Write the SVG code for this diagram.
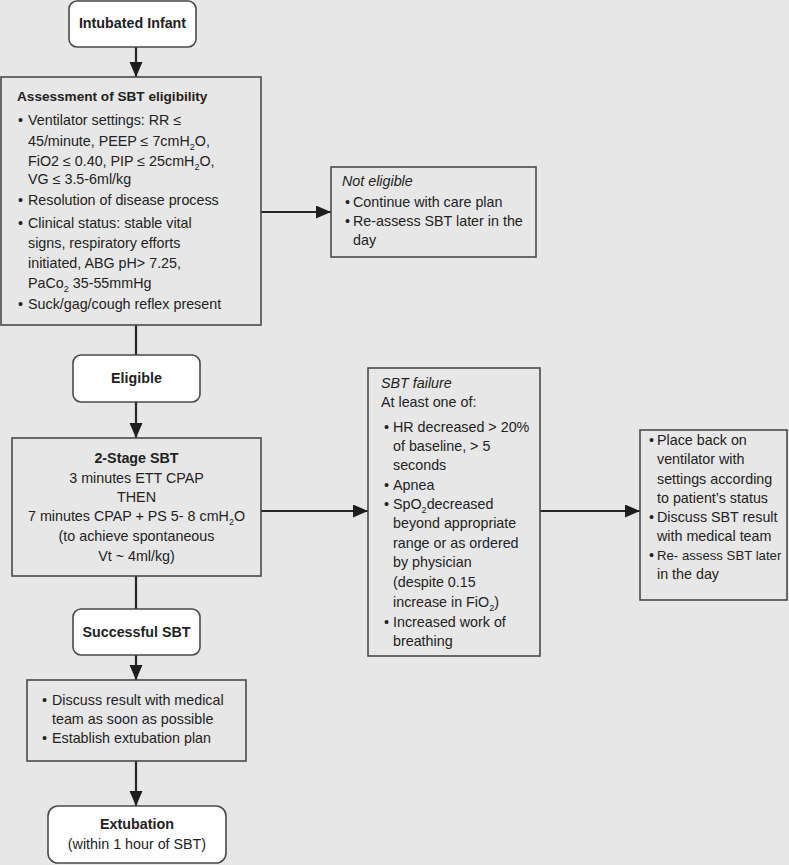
<svg xmlns="http://www.w3.org/2000/svg" width="789" height="865" viewBox="0 0 789 865">
<defs>
<style>
text{font-family:"Liberation Sans",Arial,sans-serif;font-size:14.3px;fill:#222}
.b{font-weight:bold}
.i{font-style:italic}
.m{text-anchor:middle}
.box{fill:#e7e7e7;stroke:#4a4a4a;stroke-width:1.6}
.rbox{fill:#ffffff;stroke:#4a4a4a;stroke-width:1.6}
.con{stroke:#262626;stroke-width:2.2;fill:none}
.s{font-size:9px}
</style>
<marker id="ah" markerUnits="userSpaceOnUse" markerWidth="16" markerHeight="14" refX="15" refY="6.5" orient="auto">
<path d="M0,0 L15,6.5 L0,13 Z" fill="#1e1e1e"/>
</marker>
</defs>
<rect width="789" height="865" fill="#e7e7e7"/>

<g id="connectors">
<line class="con" x1="136" y1="47" x2="136" y2="77" marker-end="url(#ah)"/>
<line class="con" x1="261" y1="212" x2="331" y2="212" marker-end="url(#ah)"/>
<line class="con" x1="136" y1="325" x2="136" y2="356"/>
<line class="con" x1="136" y1="402" x2="136" y2="438" marker-end="url(#ah)"/>
<line class="con" x1="261" y1="511" x2="368" y2="511" marker-end="url(#ah)"/>
<line class="con" x1="540" y1="511" x2="640" y2="511" marker-end="url(#ah)"/>
<line class="con" x1="136" y1="576" x2="136" y2="609"/>
<line class="con" x1="136" y1="655" x2="136" y2="680" marker-end="url(#ah)"/>
<line class="con" x1="136" y1="761" x2="136" y2="806" marker-end="url(#ah)"/>
</g>

<g id="intubated">
<rect class="rbox" x="69" y="1" width="127" height="46" rx="8"/>
<text class="b m" x="132.5" y="28">Intubated Infant</text>
</g>

<g id="assessment">
<rect class="box" x="1" y="77" width="260" height="248"/>
<text class="b" x="17" y="101" style="font-size:13.6px">Assessment of SBT eligibility</text>
<text x="18" y="125">•</text><text x="28" y="125">Ventilator settings: RR ≤</text>
<text x="28" y="146">45/minute, PEEP ≤ 7cmH<tspan class="s" dy="4">2</tspan><tspan dy="-4">O,</tspan></text>
<text x="28" y="166">FiO2 ≤ 0.40, PIP ≤ 25cmH<tspan class="s" dy="4">2</tspan><tspan dy="-4">O,</tspan></text>
<text x="28" y="184">VG ≤ 3.5-6ml/kg</text>
<text x="18" y="205">•</text><text x="28" y="205">Resolution of disease process</text>
<text x="18" y="228">•</text><text x="28" y="228">Clinical status: stable vital</text>
<text x="28" y="248">signs, respiratory efforts</text>
<text x="28" y="268">initiated, ABG pH&gt; 7.25,</text>
<text x="28" y="288">PaCo<tspan class="s" dy="4">2</tspan><tspan dy="-4"> 35-55mmHg</tspan></text>
<text x="18" y="309">•</text><text x="28" y="309">Suck/gag/cough reflex present</text>
</g>

<g id="not-eligible">
<rect class="box" x="331" y="167" width="205" height="90"/>
<text class="i" x="342" y="186">Not eligible</text>
<text x="345" y="207">•</text><text x="353" y="207">Continue with care plan</text>
<text x="345" y="226">•</text><text x="353" y="226">Re-assess SBT later in the</text>
<text x="353" y="245">day</text>
</g>

<g id="eligible">
<rect class="rbox" x="73" y="355" width="127" height="47" rx="8"/>
<text class="b m" x="136.5" y="383">Eligible</text>
</g>

<g id="two-stage">
<rect class="box" x="12" y="438" width="249" height="138"/>
<text class="b m" x="136.5" y="463">2-Stage SBT</text>
<text class="m" x="136.5" y="483">3 minutes ETT CPAP</text>
<text class="m" x="136.5" y="502">THEN</text>
<text class="m" x="136.5" y="521">7 minutes CPAP + PS 5- 8 cmH<tspan class="s" dy="4">2</tspan><tspan dy="-4">O</tspan></text>
<text class="m" x="136.5" y="541">(to achieve spontaneous</text>
<text class="m" x="136.5" y="561">Vt ~ 4ml/kg)</text>
</g>

<g id="sbt-failure">
<rect class="box" x="368" y="368" width="172" height="288"/>
<text class="i" x="381" y="388">SBT failure</text>
<text x="381" y="407">At least one of:</text>
<text x="384" y="432">•</text><text x="393" y="432">HR decreased &gt; 20%</text>
<text x="393" y="451">of baseline, &gt; 5</text>
<text x="393" y="470">seconds</text>
<text x="384" y="490">•</text><text x="393" y="490">Apnea</text>
<text x="384" y="509">•</text><text x="393" y="509">SpO<tspan class="s" dy="4">2</tspan><tspan dy="-4">decreased</tspan></text>
<text x="393" y="528">beyond appropriate</text>
<text x="393" y="548">range or as ordered</text>
<text x="393" y="567">by physician</text>
<text x="393" y="587">(despite 0.15</text>
<text x="393" y="607">increase in FiO<tspan class="s" dy="4">2</tspan><tspan dy="-4">)</tspan></text>
<text x="384" y="627">•</text><text x="393" y="627">Increased work of</text>
<text x="393" y="646">breathing</text>
</g>

<g id="place-back">
<rect class="box" x="640" y="430" width="147" height="170"/>
<text x="649" y="445">•</text><text x="657" y="445">Place back on</text>
<text x="657" y="464">ventilator with</text>
<text x="657" y="484">settings according</text>
<text x="657" y="503">to patient’s status</text>
<text x="649" y="522">•</text><text x="657" y="522">Discuss SBT result</text>
<text x="657" y="541">with medical team</text>
<text x="649" y="560">•</text><text x="657" y="560" style="font-size:13.2px">Re- assess SBT later</text>
<text x="657" y="579">in the day</text>
</g>

<g id="successful">
<rect class="rbox" x="73" y="609" width="127" height="46" rx="8"/>
<text class="b m" x="136.5" y="637">Successful SBT</text>
</g>

<g id="discuss">
<rect class="box" x="27" y="680" width="219" height="81"/>
<text x="42" y="705">•</text><text x="52" y="705">Discuss result with medical</text>
<text x="52" y="724">team as soon as possible</text>
<text x="42" y="743">•</text><text x="52" y="743">Establish extubation plan</text>
</g>

<g id="extubation">
<rect class="rbox" x="48" y="806" width="178" height="57" rx="10"/>
<text class="b m" x="137" y="829">Extubation</text>
<text class="m" x="137" y="849">(within 1 hour of SBT)</text>
</g>
</svg>
